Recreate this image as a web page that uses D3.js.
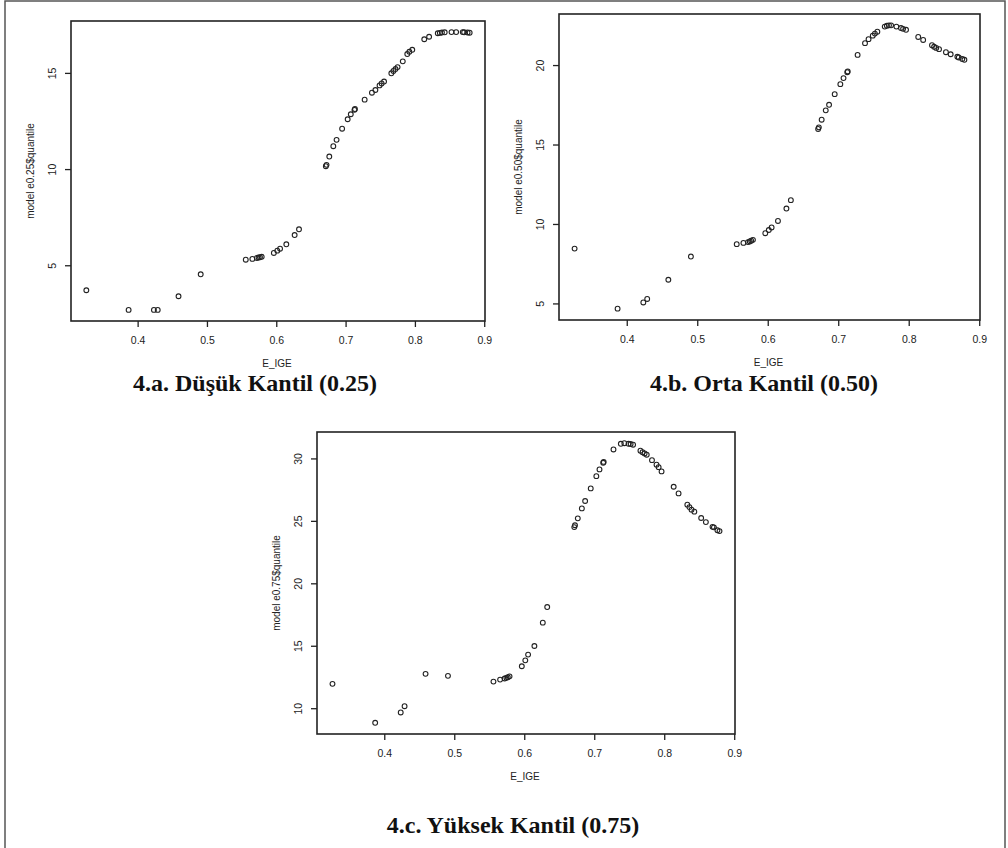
<!DOCTYPE html>
<html>
<head>
<meta charset="utf-8">
<script src="https://cdn.jsdelivr.net/npm/d3@7"></script>
<style>
  body { margin: 0; background: #fff; }
  svg { display: block; }
</style>
</head>
<body>
<div id="app"></div>
<script>
// E_IGE values (shared by the three quantile fits)
const eIge = [0.326, 0.387, 0.4235, 0.429, 0.459, 0.491, 0.556, 0.5655, 0.572, 0.5745,
  0.5765, 0.579, 0.5965, 0.6015, 0.6055, 0.6145, 0.6265, 0.6328, 0.6715, 0.6725,
  0.6765, 0.6823, 0.687, 0.695, 0.703, 0.7075, 0.7128, 0.7135, 0.7275, 0.738,
  0.743, 0.749, 0.752, 0.7555, 0.766, 0.769, 0.772, 0.775, 0.7825, 0.789,
  0.792, 0.7962, 0.8135, 0.8205, 0.833, 0.836, 0.839, 0.843, 0.8528, 0.8595,
  0.869, 0.871, 0.876, 0.879];

const q25 = [3.70, 2.68, 2.68, 2.68, 3.39, 4.53, 5.29, 5.33, 5.38, 5.40,
  5.42, 5.44, 5.64, 5.76, 5.86, 6.09, 6.57, 6.87, 10.15, 10.22,
  10.65, 11.19, 11.52, 12.10, 12.59, 12.85, 13.08, 13.12, 13.61, 13.97,
  14.11, 14.35, 14.45, 14.55, 14.98, 15.10, 15.20, 15.30, 15.60, 15.98,
  16.10, 16.20, 16.75, 16.88, 17.06, 17.08, 17.10, 17.11, 17.12, 17.12,
  17.12, 17.11, 17.10, 17.09];

const q50 = [8.45, 4.67, 5.06, 5.28, 6.49, 7.95, 8.73, 8.81, 8.86, 8.90,
  8.95, 9.00, 9.42, 9.62, 9.78, 10.19, 10.97, 11.50, 15.98, 16.08,
  16.56, 17.15, 17.50, 18.17, 18.80, 19.18, 19.55, 19.60, 20.64, 21.38,
  21.63, 21.85, 21.98, 22.10, 22.42, 22.47, 22.50, 22.50, 22.42, 22.33,
  22.28, 22.22, 21.77, 21.58, 21.25, 21.15, 21.08, 21.00, 20.81, 20.68,
  20.52, 20.48, 20.38, 20.33];

const q75 = [11.95, 8.83, 9.66, 10.16, 12.75, 12.59, 12.13, 12.29, 12.38, 12.43,
  12.48, 12.55, 13.36, 13.83, 14.29, 14.98, 16.85, 18.10, 24.50, 24.65,
  25.20, 26.00, 26.59, 27.60, 28.58, 29.12, 29.65, 29.72, 30.72, 31.17,
  31.22, 31.17, 31.15, 31.10, 30.62, 30.50, 30.40, 30.30, 29.86, 29.50,
  29.30, 28.96, 27.73, 27.20, 26.30, 26.10, 25.90, 25.74, 25.23, 24.90,
  24.52, 24.48, 24.25, 24.18];

const xTicks = [0.4, 0.5, 0.6, 0.7, 0.8, 0.9];
const yTicks25 = [5, 10, 15];
const yTicks50 = [5, 10, 15, 20];
const yTicks75 = [10, 15, 20, 25, 30];

const panels = [
  {y: q25, yTicks: yTicks25, yLabel: "model e0.25$quantile", title: "4.a. Düşük Kantil (0.25)",
   box: [71, 21, 485, 321], titleX: 255, titleY: 391},
  {y: q50, yTicks: yTicks50, yLabel: "model e0.50$quantile", title: "4.b. Orta Kantil (0.50)",
   box: [559, 14, 980, 320], titleX: 764, titleY: 391},
  {y: q75, yTicks: yTicks75, yLabel: "model e0.75$quantile", title: "4.c. Yüksek Kantil (0.75)",
   box: [317, 432, 735, 734], titleX: 513, titleY: 833}
];

const ink = "#222";

// R pads the data range by 4% on each side
function padded(values) {
  let ext = d3.extent(values);
  let d = (ext[1] - ext[0]) * 0.04;
  return [ext[0] - d, ext[1] + d];
}

let svg = d3.select("#app")
  .append("svg")
  .attr("width", 1008)
  .attr("height", 848);

svg.append("rect")
  .attr("x", 5).attr("y", 1)
  .attr("width", 1000).attr("height", 900)
  .attr("fill", "none")
  .attr("stroke", "#555")
  .attr("stroke-width", 1.5);

panels.forEach(p => {
  let [x0, y0, x1, y1] = p.box;
  let x = d3.scaleLinear(padded(eIge), [x0, x1]);
  let y = d3.scaleLinear(padded(p.y), [y1, y0]);
  let g = svg.append("g");

  let gx = g.append("g")
    .attr("transform", `translate(0,${y1})`)
    .call(d3.axisBottom(x).tickValues(xTicks).tickSize(6).tickFormat(d3.format(".1f")));
  gx.select(".domain").remove();
  gx.selectAll("line").attr("stroke", ink).attr("stroke-width", 1.3);
  gx.selectAll("text")
    .attr("y", 19).attr("dy", "0.35em")
    .attr("fill", ink)
    .style("font", "10.5px 'Liberation Sans', Arial, sans-serif");

  let gy = g.append("g")
    .attr("transform", `translate(${x0},0)`)
    .call(d3.axisLeft(y).tickValues(p.yTicks).tickSize(6));
  gy.select(".domain").remove();
  gy.selectAll("line").attr("stroke", ink).attr("stroke-width", 1.3);
  gy.selectAll("text")
    .attr("transform", "rotate(-90)")
    .attr("x", 0).attr("y", -18.5).attr("dy", "0.35em")
    .attr("text-anchor", "middle")
    .attr("fill", ink)
    .style("font", "10.5px 'Liberation Sans', Arial, sans-serif");

  g.append("rect")
    .attr("x", x0).attr("y", y0)
    .attr("width", x1 - x0).attr("height", y1 - y0)
    .attr("fill", "none")
    .attr("stroke", ink)
    .attr("stroke-width", 1.6);

  g.append("text")
    .attr("x", (x0 + x1) / 2 - 1)
    .attr("y", y1 + 42).attr("dy", "0.35em")
    .attr("text-anchor", "middle")
    .attr("fill", ink)
    .style("font", "10px 'Liberation Sans', Arial, sans-serif")
    .text("E_IGE");

  g.append("text")
    .attr("transform", `translate(${x0 - 41},${(y0 + y1) / 2}) rotate(-90)`)
    .attr("dy", "0.35em")
    .attr("text-anchor", "middle")
    .attr("fill", ink)
    .style("font", "10px 'Liberation Sans', Arial, sans-serif")
    .text(p.yLabel);

  g.append("g")
    .selectAll("circle")
    .data(eIge.map((v, i) => [v, p.y[i]]))
    .join("circle")
    .attr("cx", d => x(d[0]))
    .attr("cy", d => y(d[1]))
    .attr("r", 2.4)
    .attr("fill", "none")
    .attr("stroke", ink)
    .attr("stroke-width", 1.1);

  svg.append("text")
    .attr("x", p.titleX)
    .attr("y", p.titleY)
    .attr("text-anchor", "middle")
    .attr("fill", "#111")
    .style("font", "bold 24px 'Liberation Serif', 'Times New Roman', serif")
    .text(p.title);
});
</script>
</body>
</html>
